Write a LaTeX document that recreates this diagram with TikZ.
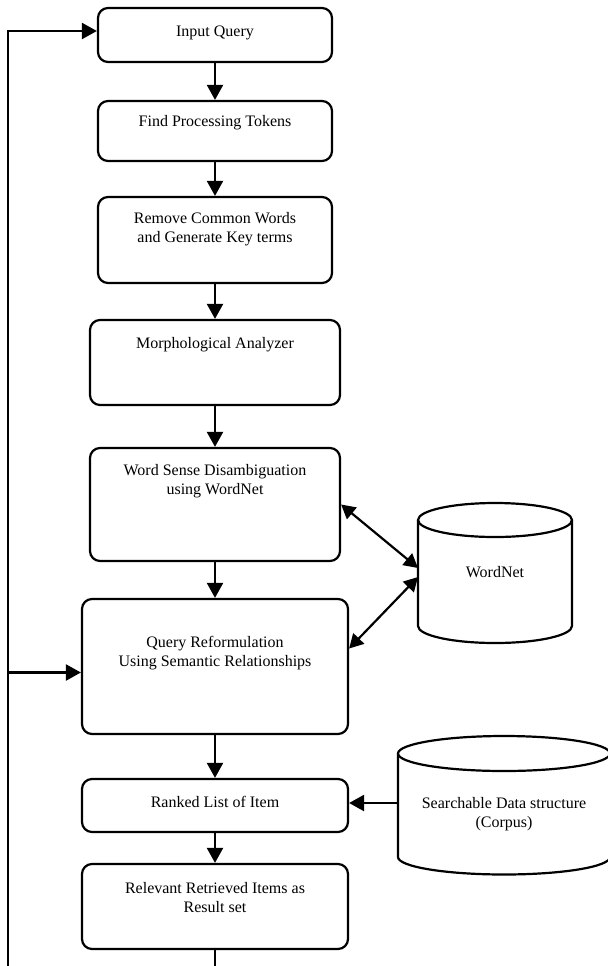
\documentclass[tikz,border=0pt]{standalone}
\usepackage{fontspec}
\setmainfont{Liberation Serif}
\usetikzlibrary{arrows.meta}
\tikzset{
	procbox/.style={draw,line width=1.1pt,rounded corners=5pt,minimum width=#1,inner sep=0pt},
	lbl/.style={font=\fontsize{8}{9.5}\selectfont,align=center,inner sep=0pt},
	arr/.style={line width=1.1pt,-{Triangle[length=7.5pt,width=8pt]}},
	biarr/.style={line width=1.1pt,{Triangle[length=7pt,width=7.5pt]}-{Triangle[length=7pt,width=7.5pt]}},
	cyl/.style={line width=1.1pt}
}
\begin{document}
\begin{tikzpicture}[x=0.5pt,y=-0.5pt]
	\useasboundingbox (0,0) rectangle (607,966);
	% boxes
	\node[procbox=117pt,minimum height=27pt] (query) at (215,35) {};
	\node[procbox=117pt,minimum height=30pt] (tokens) at (215,131) {};
	\node[procbox=117pt,minimum height=43pt] (remove) at (215,240) {};
	\node[procbox=125pt,minimum height=42.5pt] (morph) at (215,362.5) {};
	\node[procbox=125pt,minimum height=56.5pt] (wsd) at (215,504.5) {};
	\node[procbox=133pt,minimum height=67.5pt] (reform) at (215,666.5) {};
	\node[procbox=133pt,minimum height=26.5pt] (ranked) at (215,805.5) {};
	\node[procbox=133pt,minimum height=42.5pt] (result) at (215,906.5) {};
	% texts
	\node[lbl] (query-t) at (215,33) {Input Query};
	\node[lbl] (tokens-t) at (215,123) {Find Processing Tokens};
	\node[lbl] (remove-t) at (215,229.5) {Remove Common Words\\and Generate Key terms};
	\node[lbl] (morph-t) at (215,345) {Morphological Analyzer};
	\node[lbl] (wsd-t) at (215,481.5) {Word Sense Disambiguation\\using WordNet};
	\node[lbl] (reform-t) at (215,653.5) {Query Reformulation\\Using Semantic Relationships};
	\node[lbl] (ranked-t) at (215,802) {Ranked List of Item};
	\node[lbl] (result-t) at (215,897.5) {Relevant Retrieved Items as\\Result set};
	% flow
	\foreach \a/\b in {query/tokens,tokens/remove,remove/morph,morph/wsd,wsd/reform,reform/ranked,ranked/result}
	\draw[arr] (\a) -- (\b);
	\coordinate (out) at (215,970);
	\draw[line width=1.1pt] (result) -- (out);
	% feedback
	\coordinate (fb) at (8,970);
	\coordinate (fbtop) at ([yshift=2pt]query.west);
	\coordinate (fbmid) at ([yshift=-3pt]reform.west);
	\draw[arr] (fb) |- (fbtop);
	\draw[arr] (fbmid -| fb) -- (fbmid);
	% wordnet
	\draw[cyl] (418,520) -- (418,626) arc[start angle=180,end angle=0,x radius=77,y radius=17] -- (572,520);
	\draw[cyl] (495,520) ellipse[x radius=77,y radius=17];
	\node[lbl] (wordnet) at (495,572) {WordNet};
	\coordinate (wnA) at (418,568);
	\coordinate (wnB) at (418,577);
	\draw[biarr] (wsd.east) -- (wnA);
	\draw[biarr] (wnB) -- ([yshift=9pt]reform.east);
	% corpus
	\draw[cyl] (398,753.5) -- (398,857) arc[start angle=180,end angle=0,x radius=106,y radius=17.5] -- (610,753.5);
	\draw[cyl] (504,753.5) ellipse[x radius=106,y radius=17.5];
	\node[lbl] (corpus) at (504,814.5) {Searchable Data structure\\(Corpus)};
	\coordinate (cpA) at (398,803);
	\draw[arr] (cpA) -- (cpA -| ranked.east);
\end{tikzpicture}
\end{document}
